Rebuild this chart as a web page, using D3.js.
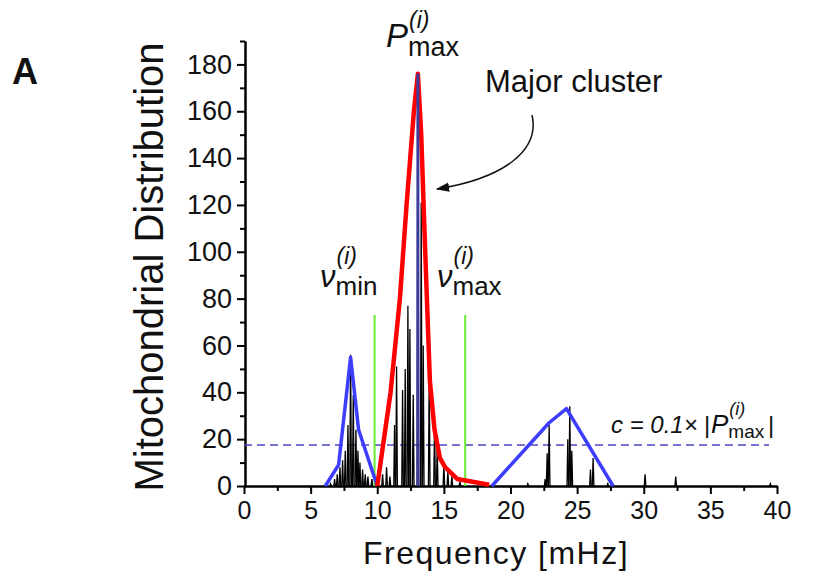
<!DOCTYPE html>
<html>
<head>
<meta charset="utf-8">
<script src="https://cdn.jsdelivr.net/npm/d3@7"></script>
<style>
  body { margin: 0; background: #fff; }
  svg { font-family: "Liberation Sans", Arial, sans-serif; }
  .axis path, .axis line { stroke: #000; stroke-width: 2; }
  .axis text { fill: #111; font-family: "Liberation Sans", Arial, sans-serif; }
</style>
</head>
<body>
<svg id="chart" width="814" height="576"></svg>
<script>
// stick spectrum (frequency in mHz, distribution count)
const spikeFreq = [6.5, 6.8, 7.0, 7.2, 7.4, 7.6, 7.8, 8.0, 8.2, 8.4, 8.55, 8.7, 8.9, 9.1, 9.3, 9.6, 9.9, 10.4, 10.7,
  10.95, 11.3, 11.45, 11.9, 12.1, 12.3, 12.45, 12.7, 13.05, 13.3, 13.45, 13.9, 14.3, 14.5, 15.0, 15.3, 15.6, 16.2,
  21.3, 22.6, 22.75, 22.9, 24.3, 24.45, 24.6, 26.0, 26.2, 27.3, 30.1, 32.4, 39.5];
const spikeVal = [1, 3, 5, 8, 11, 15, 26, 56, 39, 24, 15, 10, 7, 5, 4, 3, 4, 5, 8,
  4, 26, 51, 41, 50, 77, 67, 39, 176, 121, 60, 49, 28, 17, 9, 6, 4, 2,
  1, 3, 14, 26, 20, 34, 15, 7, 12, 1, 5, 4, 1];

// cluster envelopes
const minorFreq = [6.1, 7.1, 8.0, 8.6, 10.0];
const minorVal = [0, 9, 55, 24, 0];
const majorFreq = [10.0, 11.0, 11.7, 12.2, 12.75, 13.05, 13.3, 13.6, 13.95, 14.3, 14.7, 15.1, 16.0, 18.4];
const majorVal = [0, 40, 80, 120, 160, 176, 150, 100, 45, 24, 12, 8, 3, 0.5];
const thirdFreq = [18.6, 22.9, 24.2, 27.7];
const thirdVal = [0, 27, 33, 0];

const pMax = 176, pMaxFreq = 13.05;
const nuMin = 9.8, nuMax = 16.6, nuLineTop = 73;
const cutoff = 17.5;

const xTicks = [0, 5, 10, 15, 20, 25, 30, 35, 40];
const yTicks = [0, 20, 40, 60, 80, 100, 120, 140, 160, 180];

const svg = d3.select("#chart");
const x = d3.scaleLinear().domain([0, 40]).range([244, 777]);
const y = d3.scaleLinear().domain([0, 190]).range([486, 41]);

// axes
svg.append("g").attr("class", "axis")
  .attr("transform", "translate(0,486)")
  .call(d3.axisBottom(x).tickValues(d3.range(2.5, 40, 5)).tickSize(5).tickSizeOuter(0).tickFormat(""));
svg.append("g").attr("class", "axis")
  .attr("transform", "translate(0,486)")
  .call(d3.axisBottom(x).tickValues(xTicks).tickSize(8).tickSizeOuter(0).tickPadding(7))
  .selectAll("text").style("font-size", "25px");
svg.append("g").attr("class", "axis")
  .attr("transform", "translate(245,0)")
  .call(d3.axisLeft(y).tickValues(d3.range(10, 191, 20)).tickSize(5).tickSizeOuter(0).tickFormat(""));
svg.append("g").attr("class", "axis")
  .attr("transform", "translate(245,0)")
  .call(d3.axisLeft(y).tickValues(yTicks).tickSize(8).tickSizeOuter(0).tickPadding(5))
  .selectAll("text").style("font-size", "27px");

// threshold dashed line
svg.append("line")
  .attr("x1", x(0)).attr("x2", x(39.4))
  .attr("y1", y(cutoff)).attr("y2", y(cutoff))
  .attr("stroke", "#4a4ac4").attr("stroke-width", 1.6).attr("stroke-dasharray", "8,5");

// spikes
svg.append("g").selectAll("path")
  .data(spikeFreq.map((f, i) => [f, spikeVal[i]]))
  .join("path")
  .attr("d", d => `M${x(d[0] - 0.06)},${y(0)}L${x(d[0])},${y(d[1])}L${x(d[0] + 0.06)},${y(0)}`)
  .attr("fill", "none").attr("stroke", "#000").attr("stroke-width", 1.3);

// nu min / nu max markers
[nuMin, nuMax].forEach(f => {
  svg.append("line")
    .attr("x1", x(f)).attr("x2", x(f))
    .attr("y1", y(0)).attr("y2", y(nuLineTop))
    .attr("stroke", "#66ee33").attr("stroke-width", 2);
});

const line = d3.line().x(d => x(d[0])).y(d => y(d[1]));
const zip = (a, b) => a.map((v, i) => [v, b[i]]);

svg.append("path").datum(zip(minorFreq, minorVal)).attr("d", line)
  .attr("fill", "none").attr("stroke", "#3d3dff").attr("stroke-width", 3.5).attr("stroke-linejoin", "round");
svg.append("path").datum(zip(thirdFreq, thirdVal)).attr("d", line)
  .attr("fill", "none").attr("stroke", "#3d3dff").attr("stroke-width", 3.5).attr("stroke-linejoin", "round");
svg.append("path").datum(zip(majorFreq, majorVal)).attr("d", line)
  .attr("fill", "none").attr("stroke", "#ff0000").attr("stroke-width", 4.5).attr("stroke-linejoin", "round");

// Pmax vertical
svg.append("line")
  .attr("x1", x(pMaxFreq)).attr("x2", x(pMaxFreq))
  .attr("y1", y(0)).attr("y2", y(pMax))
  .attr("stroke", "#3c3c9c").attr("stroke-width", 3);

// axis titles
svg.append("text")
  .attr("x", 496).attr("y", 564)
  .attr("text-anchor", "middle")
  .style("font-size", "32px").style("letter-spacing", "1.5px").attr("fill", "#111")
  .text("Frequency [mHz]");

svg.append("text")
  .attr("transform", "translate(163,267) rotate(-90)")
  .attr("text-anchor", "middle")
  .style("font-size", "40px").attr("fill", "#111")
  .text("Mitochondrial Distribution");

svg.append("text")
  .attr("x", 12).attr("y", 84)
  .style("font-size", "36px").style("font-weight", "bold").attr("fill", "#111")
  .text("A");

// symbol with stacked superscript (i) and subscript
function symbol(g, xPos, yBase, base, sub, baseSize, supSize, subSize, supRise, subDrop) {
  const t = g.append("text").attr("x", xPos).attr("y", yBase)
    .style("font-size", baseSize + "px").style("font-style", "italic")
    .attr("fill", "#111").text(base);
  const w = t.node().getComputedTextLength();
  g.append("text").attr("x", xPos + w + 1).attr("y", yBase - supRise)
    .style("font-size", supSize + "px").style("font-style", "italic").attr("fill", "#111").text("(i)");
  g.append("text").attr("x", xPos + w).attr("y", yBase + subDrop)
    .style("font-size", subSize + "px").attr("fill", "#111").text(sub);
  return w;
}

const ann = svg.append("g");
symbol(ann, 386, 47, "P", "max", 33, 23, 27, 19, 9);
symbol(ann, 320, 287, "\u03bd", "min", 31, 23, 26, 23, 8);
symbol(ann, 437, 287, "\u03bd", "max", 31, 23, 26, 23, 8);

ann.append("text").attr("x", 485).attr("y", 92)
  .style("font-size", "31px").attr("fill", "#111").text("Major cluster");

// curved arrow
svg.append("defs").append("marker")
  .attr("id", "head").attr("viewBox", "0 0 10 10").attr("refX", 9).attr("refY", 5)
  .attr("markerWidth", 9).attr("markerHeight", 9).attr("orient", "auto-start-reverse")
  .append("path").attr("d", "M0,1.5L10,5L0,8.5Z").attr("fill", "#111");
svg.append("path")
  .attr("d", "M532,115 C540,150 505,178 437,189")
  .attr("fill", "none").attr("stroke", "#111").attr("stroke-width", 1.5)
  .attr("marker-end", "url(#head)");

// threshold formula
const c = svg.append("g");
c.append("text").attr("x", 611).attr("y", 433)
  .style("font-size", "24px").style("font-style", "italic").attr("fill", "#111")
  .text("c = 0.1\u00d7");
c.append("text").attr("x", 704).attr("y", 433)
  .style("font-size", "24px").attr("fill", "#111").text("|");
symbol(c, 711, 433, "P", "max", 26, 18, 19, 18, 5);
c.append("text").attr("x", 768).attr("y", 433)
  .style("font-size", "24px").attr("fill", "#111").text("|");
</script>
</body>
</html>
